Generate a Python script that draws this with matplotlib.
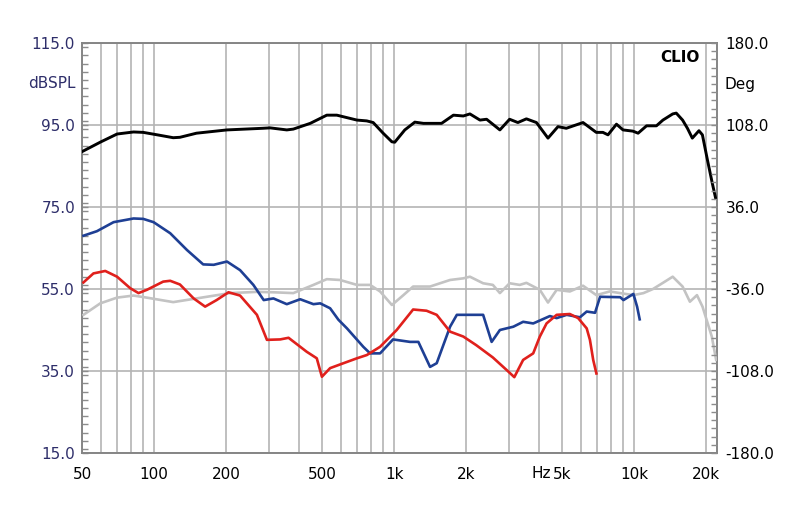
import matplotlib
matplotlib.use("Agg")
import matplotlib.pyplot as plt
from matplotlib.ticker import FixedLocator, MultipleLocator, NullFormatter

plt.rcParams['font.family'] = ['DejaVu Sans']

# ---- data (frequency in Hz, level in dBSPL) ----
black_f = [50, 60, 70, 82, 90, 103, 120, 128, 150, 201, 284, 304, 357, 380, 447, 524, 577,
           700, 769, 818, 900, 979, 1006, 1108, 1220, 1325, 1577, 1767, 1943, 2070, 2280, 2430,
           2760, 3030, 3280, 3560, 3920, 4380, 4820, 5220, 6130, 6960, 7420, 7790, 8450, 9000,
           9900, 10400, 11280, 12400, 13200, 14500, 15000, 15940, 16700, 17500, 18650, 19280,
           20230, 21200, 21900]
black_db = [88.5, 90.9, 92.8, 93.3, 93.2, 92.6, 91.9, 92.0, 93.0, 93.8, 94.2, 94.3, 93.8, 94.0,
            95.4, 97.4, 97.4, 96.2, 96.0, 95.6, 93.0, 90.9, 90.8, 93.8, 95.7, 95.4, 95.4, 97.4,
            97.2, 97.7, 96.2, 96.4, 93.8, 96.4, 95.6, 96.5, 95.6, 91.8, 94.6, 94.2, 95.6, 93.2,
            93.2, 92.6, 95.2, 93.8, 93.5, 93.0, 94.8, 94.8, 96.2, 97.7, 97.9, 96.2, 94.2, 91.8,
            93.6, 92.6, 86.5, 80.8, 77.1]

blue_f = [50.7, 57.7, 67.7, 82, 90, 99.4, 116.6, 137, 160, 177, 201, 228, 259, 286, 314, 357,
          406, 461, 492, 541, 586, 636, 744, 794, 874, 990, 1165, 1262, 1412, 1505, 1711, 1826,
          2350, 2550, 2760, 3140, 3450, 3800, 4460, 4760, 5240, 5950, 6350, 6880, 7220, 8760,
          9040, 9940, 10300, 10560]
blue_db = [68.0, 69.1, 71.3, 72.2, 72.1, 71.3, 68.6, 64.5, 61.0, 60.9, 61.7, 59.6, 56.0, 52.3,
           52.7, 51.3, 52.5, 51.3, 51.5, 50.3, 47.5, 45.4, 40.9, 39.3, 39.3, 42.7, 42.1, 42.1,
           36.0, 36.9, 45.8, 48.7, 48.7, 42.1, 45.0, 45.8, 47.0, 46.6, 48.4, 47.9, 48.7, 48.1,
           49.5, 49.2, 53.1, 53.0, 52.3, 53.8, 50.7, 47.6]

red_f = [50.7, 55.8, 62.5, 70, 79.4, 86, 93.2, 109, 116.6, 128, 146, 163, 182, 204, 228, 268,
         295, 335, 363, 432, 476, 500, 541, 615, 700, 770, 874, 1025, 1200, 1365, 1505, 1711,
         1943, 2200, 2580, 2950, 3170, 3340, 3450, 3800, 4050, 4320, 4760, 5400, 5850, 6350,
         6550, 6760, 6970]
red_db = [56.6, 58.8, 59.4, 58.0, 55.2, 54.0, 54.8, 56.8, 57.0, 56.1, 52.7, 50.7, 52.3, 54.2,
          53.4, 48.7, 42.6, 42.7, 43.1, 39.7, 38.1, 33.6, 35.7, 36.9, 38.1, 38.9, 40.9, 45.0,
          50.0, 49.7, 48.7, 44.6, 43.4, 41.3, 38.3, 35.2, 33.5, 36.1, 37.7, 39.3, 43.4, 46.6,
          48.7, 48.9, 47.9, 45.4, 42.6, 37.7, 34.4]

gray_f = [50.7, 59.6, 70, 82, 93, 120, 150, 207, 268, 314, 380, 461, 524, 595, 700, 794, 874,
          979, 1093, 1200, 1412, 1711, 1943, 2070, 2350, 2580, 2760, 3030, 3340, 3560, 4050,
          4380, 4760, 5400, 6130, 6970, 7920, 8760, 9940, 10950, 12000, 13200, 14500, 15940,
          17100, 18300, 19300, 21100, 22000]
gray_db = [48.7, 51.5, 52.9, 53.4, 52.9, 51.8, 52.7, 54.0, 54.3, 54.2, 54.0, 56.0, 57.4, 57.2,
           56.0, 56.0, 54.4, 51.1, 53.5, 55.6, 55.6, 57.2, 57.6, 58.0, 56.4, 56.0, 54.0, 56.4,
           56.0, 56.5, 54.8, 51.7, 54.8, 54.4, 55.8, 53.5, 54.4, 54.0, 53.5, 54.0, 55.0, 56.5,
           58.0, 55.6, 51.9, 53.5, 50.7, 43.4, 37.7]

x_label_ticks = [50, 100, 200, 500, 1000, 2000, 5000, 10000, 20000]
x_label_text = ['50', '100', '200', '500', '1k', '2k', '5k', '10k', '20k']
x_grid = [60, 70, 80, 90, 300, 400, 600, 700, 800, 900, 3000, 4000, 6000, 7000, 8000, 9000]
y_left_ticks = [15, 35, 55, 75, 95, 115]
y_right_ticks = [-180, -108, -36, 36, 108, 180]

# ---- figure ----
fig = plt.figure(figsize=(8, 5.12), dpi=100)
ax = fig.add_axes([82/800, 59/512, 635/800, 410/512])

ax.plot(gray_f, gray_db, color='#c3c3c3', lw=1.9, zorder=3, solid_joinstyle='round')
ax.plot(black_f, black_db, color='black', lw=2.1, zorder=4, solid_joinstyle='round')
ax.plot(blue_f, blue_db, color='#1e3f94', lw=1.9, zorder=4, solid_joinstyle='round')
ax.plot(red_f, red_db, color='#e0201c', lw=1.9, zorder=5, solid_joinstyle='round')

ax.set_xscale('log')
ax.set_xlim(50, 22180)
ax.set_ylim(15, 115)

ax.xaxis.set_major_locator(FixedLocator(x_label_ticks))
ax.set_xticklabels(x_label_text)
ax.xaxis.set_minor_locator(FixedLocator(x_grid))
ax.xaxis.set_minor_formatter(NullFormatter())
ax.tick_params(axis='x', which='both', length=0, pad=10, labelsize=11, labelcolor='black')

ax.yaxis.set_major_locator(FixedLocator(y_left_ticks))
ax.set_yticklabels(['%.1f' % v for v in y_left_ticks])
ax.yaxis.set_minor_locator(MultipleLocator(2))
ax.tick_params(axis='y', which='both', direction='in', length=4, width=1, color='#8c8c8c',
               pad=5, labelsize=11, labelcolor='#2e2e6a')

ax.grid(True, which='both', axis='x', color='#b4b4b4', lw=1.2, zorder=1)
ax.grid(True, which='major', axis='y', color='#b4b4b4', lw=1.2, zorder=1)
ax.set_axisbelow(True)
for s in ax.spines.values():
    s.set_color('#858585')
    s.set_linewidth(1.4)

ax2 = ax.twinx()
ax2.set_ylim(-180, 180)
ax2.yaxis.set_major_locator(FixedLocator(y_right_ticks))
ax2.set_yticklabels(['%.1f' % v for v in y_right_ticks])
ax2.yaxis.set_minor_locator(MultipleLocator(7.2))
ax2.tick_params(axis='y', which='both', direction='in', length=4, width=1, color='#8c8c8c',
                pad=6, labelsize=11, labelcolor='black')
for s in ax2.spines.values():
    s.set_visible(False)

fig.text(76/800, 1 - 84/512, 'dBSPL', ha='right', va='center', fontsize=11, color='#2e2e6a')
fig.text(725/800, 1 - 84/512, 'Deg', ha='left', va='center', fontsize=11, color='black')
fig.text(700/800, 1 - 57/512, 'CLIO', ha='right', va='center', fontsize=11,
         fontweight='bold', color='black')
fig.text(541/800, 1 - 474/512, 'Hz', ha='center', va='center', fontsize=11, color='black')

fig.savefig('out.png', dpi=100)
